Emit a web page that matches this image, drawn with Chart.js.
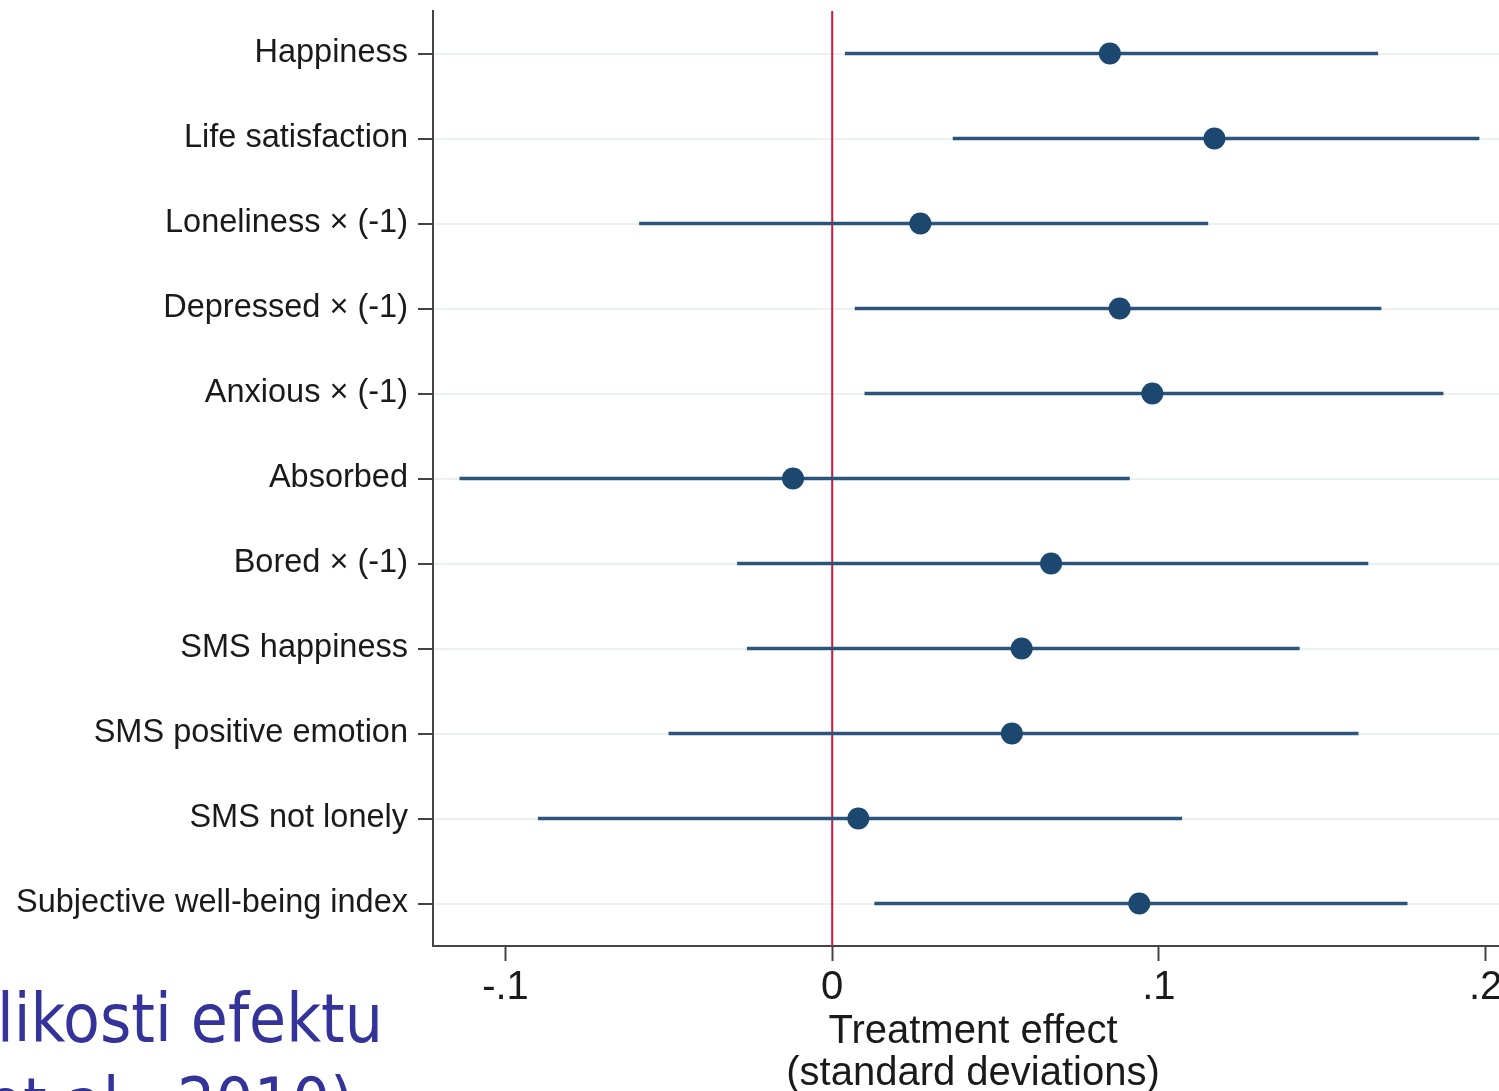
<!DOCTYPE html>
<html>
<head>
<meta charset="utf-8">
<script src="https://cdn.jsdelivr.net/npm/chart.js@4.4.1/dist/chart.umd.min.js"></script>
<style>
  html, body { margin: 0; padding: 0; background: #ffffff; overflow: hidden; width: 1499px; height: 1091px; }
  #wrap { position: absolute; left: 0; top: 0; width: 1524px; height: 1091px; }
  .note { position: absolute; left: 0; font-family: "DejaVu Sans Condensed", "DejaVu Sans", sans-serif; font-size: 67px; color: #333399; white-space: nowrap; line-height: 1; }
</style>
</head>
<body>
<div id="wrap"><canvas id="c" width="1524" height="1091"></canvas></div>
<div class="note" style="top:986px; left:-3px;">likosti efektu</div>
<div class="note" style="top:1070px; left:-14px;">et al., 2010)</div>
<script>
const categories = [
  "Happiness",
  "Life satisfaction",
  "Loneliness \u00d7 (-1)",
  "Depressed \u00d7 (-1)",
  "Anxious \u00d7 (-1)",
  "Absorbed",
  "Bored \u00d7 (-1)",
  "SMS happiness",
  "SMS positive emotion",
  "SMS not lonely",
  "Subjective well-being index"
];
const estimates = [0.085, 0.117, 0.027, 0.088, 0.098, -0.012, 0.067, 0.058, 0.055, 0.008, 0.094];
const ciLow     = [0.004, 0.037, -0.059, 0.007, 0.010, -0.114, -0.029, -0.026, -0.050, -0.090, 0.013];
const ciHigh    = [0.167, 0.198, 0.115, 0.168, 0.187, 0.091, 0.164, 0.143, 0.161, 0.107, 0.176];
const xTickValues = [-0.1, 0, 0.1, 0.2];
const xTickLabels = ["-.1", "0", ".1", ".2"];
const referenceValue = 0;
const axisTitle = ["Treatment effect", "(standard deviations)"];

const ciData = ciLow.map((lo, i) => [lo, ciHigh[i]]);

const refLine = {
  id: 'refLine',
  beforeDatasetsDraw(chart) {
    const { ctx, chartArea, scales } = chart;
    const x = scales.x.getPixelForValue(referenceValue);
    ctx.save();
    ctx.strokeStyle = '#d4163c';
    ctx.lineWidth = 2;
    ctx.beginPath();
    ctx.moveTo(x, chartArea.top);
    ctx.lineTo(x, chartArea.bottom);
    ctx.stroke();
    ctx.restore();
  }
};

new Chart(document.getElementById('c'), {
  type: 'bar',
  data: {
    labels: categories,
    datasets: [
      {
        type: 'line',
        indexAxis: 'y',
        data: estimates,
        showLine: false,
        pointRadius: 11,
        pointHoverRadius: 11,
        pointBackgroundColor: '#1c4870',
        pointBorderWidth: 0,
        borderColor: '#1c4870',
        order: 1
      },
      {
        type: 'bar',
        data: ciData,
        backgroundColor: '#2a5479',
        borderWidth: 0,
        barThickness: 3,
        order: 2
      }
    ]
  },
  options: {
    indexAxis: 'y',
    responsive: false,
    animation: false,
    layout: { padding: { top: 11, right: 4, left: 0, bottom: 0 } },
    plugins: { legend: { display: false }, tooltip: { enabled: false } },
    scales: {
      y: {
        type: 'category',
        offset: true,
        grid: {
          offset: false,
          color: '#e9f1f3',
          lineWidth: 2,
          tickColor: '#444444',
          tickLength: 15,
          tickWidth: 2
        },
        border: { color: '#444444', width: 2 },
        ticks: {
          color: '#1a1a1a',
          padding: 10,
          font: { family: '"Liberation Sans", Arial, sans-serif', size: 32.5 }
        },
        afterFit(scale) {
          scale.width = 433;
          scale.paddingTop = 0;
          scale.paddingBottom = 0;
        }
      },
      x: {
        type: 'linear',
        min: -0.1222,
        max: 0.2084,
        afterBuildTicks(scale) { scale.ticks = xTickValues.map(v => ({ value: v })); },
        grid: {
          drawOnChartArea: false,
          tickColor: '#444444',
          tickLength: 15,
          tickWidth: 2
        },
        border: { color: '#444444', width: 2 },
        ticks: {
          color: '#1a1a1a',
          padding: 3,
          maxRotation: 0,
          autoSkip: false,
          font: { family: '"Liberation Sans", Arial, sans-serif', size: 40 },
          callback(value) {
            const i = xTickValues.findIndex(v => Math.abs(v - value) < 1e-9);
            return i >= 0 ? xTickLabels[i] : '';
          }
        },
        title: {
          display: true,
          text: axisTitle,
          color: '#1a1a1a',
          font: { family: '"Liberation Sans", Arial, sans-serif', size: 40, lineHeight: 1.05 },
          padding: { top: 0, bottom: -4 }
        },
        afterFit(scale) {
          scale.height = 145;
          scale.paddingLeft = 0;
          scale.paddingRight = 0;
        }
      }
    }
  },
  plugins: [refLine]
});
</script>
</body>
</html>
